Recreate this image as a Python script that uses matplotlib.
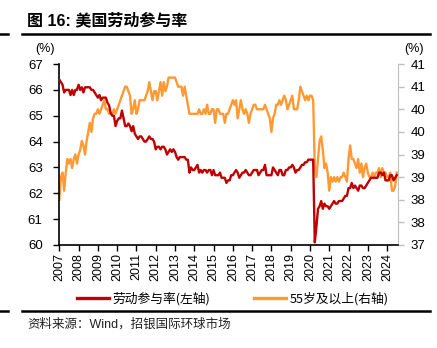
import numpy as np
import matplotlib
matplotlib.use('Agg')
import matplotlib.pyplot as plt
from matplotlib.lines import Line2D

plt.rcParams['font.family'] = ['Liberation Sans', 'Noto Sans CJK SC', 'DejaVu Sans']

# ===> data (monthly, 2007-01 .. 2024-07)
years = list(range(2007, 2025))
lfpr = [
    [66.4, 66.3, 66.2, 65.9, 66.0, 66.0, 66.0, 65.8, 66.0, 65.8, 66.0, 66.0],  # 2007
    [66.2, 66.0, 66.1, 65.9, 66.1, 66.1, 66.1, 66.1, 66.0, 66.0, 65.9, 65.8],  # 2008
    [65.7, 65.8, 65.6, 65.7, 65.7, 65.7, 65.5, 65.4, 65.1, 65.0, 65.0, 64.6],  # 2009
    [64.8, 64.9, 64.9, 65.2, 64.9, 64.6, 64.6, 64.7, 64.6, 64.4, 64.6, 64.3],  # 2010
    [64.2, 64.1, 64.2, 64.2, 64.1, 64.0, 64.0, 64.1, 64.2, 64.1, 64.1, 64.0],  # 2011
    [63.7, 63.8, 63.8, 63.7, 63.8, 63.8, 63.7, 63.5, 63.6, 63.7, 63.6, 63.7],  # 2012
    [63.6, 63.4, 63.3, 63.4, 63.4, 63.4, 63.4, 63.3, 63.3, 62.8, 63.0, 62.9],  # 2013
    [62.9, 63.0, 63.1, 62.8, 62.9, 62.8, 62.9, 62.9, 62.8, 62.9, 62.9, 62.7],  # 2014
    [62.9, 62.7, 62.7, 62.7, 62.8, 62.6, 62.6, 62.6, 62.4, 62.5, 62.5, 62.7],  # 2015
    [62.7, 62.8, 62.9, 62.8, 62.6, 62.7, 62.8, 62.8, 62.9, 62.8, 62.7, 62.7],  # 2016
    [62.8, 62.9, 62.9, 62.9, 62.7, 62.8, 62.9, 62.9, 63.1, 62.7, 62.7, 62.7],  # 2017
    [62.7, 63.0, 62.9, 62.8, 62.7, 62.9, 62.9, 62.7, 62.7, 62.9, 62.9, 63.0],  # 2018
    [63.0, 63.1, 63.0, 62.8, 62.9, 62.9, 63.0, 63.1, 63.1, 63.2, 63.2, 63.3],  # 2019
    [63.3, 63.3, 63.3, 60.1, 60.7, 61.4, 61.5, 61.7, 61.4, 61.6, 61.5, 61.5],  # 2020
    [61.4, 61.5, 61.6, 61.7, 61.6, 61.6, 61.7, 61.7, 61.7, 61.8, 61.9, 61.9],  # 2021
    [62.2, 62.2, 62.4, 62.2, 62.3, 62.2, 62.1, 62.3, 62.3, 62.2, 62.2, 62.3],  # 2022
    [62.4, 62.5, 62.6, 62.6, 62.6, 62.6, 62.6, 62.8, 62.8, 62.7, 62.8, 62.5],  # 2023
    [62.5, 62.5, 62.7, 62.7, 62.5, 62.6, 62.7],                                # 2024
]
lfpr_55 = [
    [38.0, 38.5, 38.6, 38.2, 38.6, 38.9, 38.8, 38.9, 38.7, 38.9, 39.0, 38.8],  # 2007
    [39.0, 39.1, 39.3, 39.2, 39.0, 39.3, 39.5, 39.7, 39.5, 39.8, 39.9, 39.9],  # 2008
    [40.0, 39.9, 40.0, 40.1, 40.2, 40.0, 40.0, 39.9, 39.9, 39.9, 40.0, 39.9],  # 2009
    [40.0, 40.1, 40.2, 40.3, 40.4, 40.5, 40.5, 40.4, 40.3, 39.9, 40.0, 40.2],  # 2010
    [39.9, 40.0, 40.2, 40.2, 40.2, 40.2, 40.3, 40.4, 40.6, 40.4, 40.2, 40.4],  # 2011
    [40.4, 40.2, 40.4, 40.6, 40.3, 40.6, 40.4, 40.5, 40.7, 40.7, 40.7, 40.7],  # 2012
    [40.7, 40.6, 40.5, 40.5, 40.5, 40.3, 40.5, 40.3, 40.1, 39.9, 39.9, 39.9],  # 2013
    [39.9, 39.9, 39.9, 40.0, 39.9, 39.9, 40.0, 39.9, 40.1, 39.9, 39.9, 40.0],  # 2014
    [40.0, 39.7, 40.0, 40.0, 39.9, 39.9, 39.9, 39.7, 39.9, 39.9, 40.0, 40.1],  # 2015
    [40.2, 40.1, 40.2, 39.8, 40.0, 40.2, 40.0, 39.9, 40.0, 39.9, 39.7, 39.9],  # 2016
    [40.0, 40.1, 40.1, 40.0, 40.0, 40.0, 40.0, 40.0, 40.1, 40.0, 39.9, 39.8],  # 2017
    [39.5, 39.8, 39.9, 40.1, 40.1, 40.2, 40.1, 40.2, 40.3, 40.2, 40.0, 40.1],  # 2018
    [40.2, 40.3, 40.0, 40.0, 40.0, 40.2, 40.5, 40.4, 40.3, 40.2, 40.3, 40.2],  # 2019
    [40.3, 40.3, 40.2, 38.7, 38.5, 38.9, 39.3, 39.4, 39.1, 38.7, 38.8, 38.6],  # 2020
    [38.2, 38.5, 38.4, 38.5, 38.4, 38.5, 38.4, 38.5, 38.5, 38.6, 38.5, 38.4],  # 2021
    [38.9, 39.2, 38.9, 38.9, 38.8, 38.7, 38.9, 38.6, 38.8, 38.5, 38.7, 38.8],  # 2022
    [38.6, 38.5, 38.5, 38.6, 38.5, 38.6, 38.6, 38.7, 38.5, 38.7, 38.6, 38.6],  # 2023
    [38.5, 38.5, 38.6, 38.2, 38.2, 38.3, 38.6],                                # 2024
]
right_ticks = [37.0, 37.5, 38.0, 38.5, 39.0, 39.5, 40.0, 40.5, 41.0]
right_labels = ['37', '38', '38', '39', '39', '40', '40', '41', '41']

# decimal year per month
t = []
for y, row in zip(years, lfpr):
    t += [y + m / 12.0 for m in range(len(row))]
t = np.array(t)
red_vals = np.concatenate(lfpr)
org_vals = np.concatenate(lfpr_55)

RED = '#C00000'
ORANGE = '#FF9933'

fig = plt.figure(figsize=(4.37, 3.48), dpi=100)
ax = fig.add_axes([0.1357, 0.296, 0.7757, 0.520])
ax2 = ax.twinx()

ax.plot(t, red_vals, color=RED, lw=1.7, zorder=3)
ax2.plot(t, org_vals, color=ORANGE, lw=1.7)
ax.set_zorder(ax2.get_zorder() + 1)
ax.patch.set_visible(False)

ax.set_xlim(2007, 2024.58)
ax.set_ylim(60, 67)
ax2.set_ylim(37, 41)

ax.set_xticks(years)
ax.set_xticklabels([str(y) for y in years], rotation=90, fontsize=9)
ax.set_yticks(range(60, 68))
ax.tick_params(axis='y', labelsize=9.5, direction='out', length=4, width=1, pad=8)
ax.tick_params(axis='x', direction='out', length=4, width=1, pad=2)
ax2.set_yticks(right_ticks)
ax2.set_yticklabels(right_labels)
ax2.tick_params(axis='y', labelsize=9.5, direction='out', length=4, width=1,
                color='#BFBFBF', pad=5)

ax.spines['top'].set_visible(False)
ax2.spines['top'].set_visible(False)
ax.spines['right'].set_visible(False)
ax2.spines['left'].set_visible(False)
ax2.spines['bottom'].set_visible(False)
ax2.spines['right'].set_color('#BFBFBF')
ax.spines['left'].set_linewidth(1.2)
ax.spines['bottom'].set_linewidth(1.2)

# ===> texts
fig.text(0.062, 0.942, '图 16: 美国劳动参与率', fontsize=11.5, fontweight='bold',
         va='center', ha='left')
fig.text(0.103, 0.859, '(%)', fontsize=9, ha='center', va='center')
fig.text(0.947, 0.859, '(%)', fontsize=9, ha='center', va='center')
fig.text(0.062, 0.068, '资料来源：Wind，招银国际环球市场', fontsize=9,
         ha='left', va='center', color='#222222')

# rules
fig.add_artist(Line2D([0.050, 0.985], [0.902, 0.902], color='black', lw=1.8))
fig.add_artist(Line2D([0.0, 0.018], [0.902, 0.902], color='black', lw=1.8))
fig.add_artist(Line2D([0.050, 0.985], [0.106, 0.106], color='black', lw=1.8))
fig.add_artist(Line2D([0.0, 0.018], [0.106, 0.106], color='black', lw=1.8))

handles = [Line2D([], [], color=RED, lw=2.4), Line2D([], [], color=ORANGE, lw=2.4)]
fig.legend(handles, ['劳动参与率(左轴)', '55岁及以上(右轴)'], loc='center',
           bbox_to_anchor=(0.533, 0.141), ncol=2, frameon=False,
           prop={'family': ['Noto Sans CJK SC'], 'size': 9.2},
           handlelength=2.5, handletextpad=0.3, columnspacing=3.4)

fig.savefig('out.png', dpi=100)
